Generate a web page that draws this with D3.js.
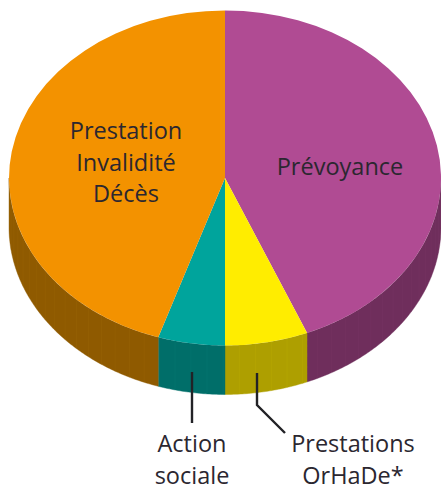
<!DOCTYPE html>
<html>
<head>
<meta charset="utf-8">
<script src="https://cdn.jsdelivr.net/npm/d3@7"></script>
<style>html,body{margin:0;padding:0;background:#fff}svg{display:block}</style>
</head>
<body>
<svg id="c" width="441" height="485"></svg>
<script>
const categories = ["Prévoyance", "Prestations OrHaDe*", "Action sociale", "Prestation Invalidité Décès"];
const shares = [43.8, 6.2, 5.0, 45.0];
const topColors = ["#b04b93", "#ffed00", "#00a49c", "#f39200"];
const sideColors = ["#6f2e5c", "#ae9f00", "#006e69", "#8f5a00"];
const ribColors = ["#7d3a69", "#c2b200", "#0a7f79", "#a06a08"];
const insideLabels = [
  {lines:["Prévoyance"], x:340, y:175},
  {lines:["Prestation","Invalidité","Décès"], x:126, y:139}
];
const outsideLabels = [
  {lines:["Action","sociale"], x:192, y:452},
  {lines:["Prestations","OrHaDe*"], x:353, y:452}
];
const leaders = [
  [[192,372],[192,423]],
  [[257,373],[257,405],[285,433]]
];

const cx=225, cy=178, rx=216, ry=167.5, depth=49, lh=31.5;
const svg=d3.select("#c");
const pie=d3.pie().sort(null).value((d,i)=>shares[i]);
const arcs=pie(categories);
const X=a=>cx+rx*Math.sin(a), Y=a=>cy-ry*Math.cos(a);
const line=d3.line();
const front=[Math.PI/2,Math.PI*1.5];

// side wall
const gWall=svg.append("g");
arcs.forEach((d,i)=>{
  const a0=Math.max(d.startAngle,front[0]), a1=Math.min(d.endAngle,front[1]);
  if(a1<=a0) return;
  const steps=d3.range(a0,a1,0.01).concat([a1]);
  const pts=steps.map(a=>[X(a),Y(a)]).concat(steps.slice().reverse().map(a=>[X(a),Y(a)+depth]));
  gWall.append("path").attr("d",line(pts)+"Z").attr("fill",sideColors[i]).attr("stroke",sideColors[i]).attr("stroke-width",0.4);
  // vertical ribs
  const rib=0.075;
  gWall.selectAll(null).data(d3.range(Math.ceil(a0/rib)*rib,a1,rib)).join("line")
    .attr("x1",X).attr("x2",X)
    .attr("y1",Y).attr("y2",a=>Y(a)+depth)
    .attr("stroke",ribColors[i]).attr("stroke-width",0.7).attr("opacity",0.4);
});

// top face
const arc=d3.arc().innerRadius(0).outerRadius(1);
svg.append("g").attr("transform",`translate(${cx},${cy}) scale(${rx},${ry})`)
  .selectAll("path").data(arcs).join("path")
  .attr("d",arc).attr("fill",(d,i)=>topColors[i]);

// leaders
svg.append("g").selectAll("path").data(leaders).join("path")
  .attr("d",line).attr("fill","none").attr("stroke","#222226").attr("stroke-width",2.4);

// labels
const txt=svg.append("g").attr("font-family","'Open Sans',sans-serif").attr("font-size",23.5)
  .attr("fill","#2b2730").attr("text-anchor","middle");
insideLabels.concat(outsideLabels).forEach(l=>{
  l.lines.forEach((s,j)=>txt.append("text").attr("x",l.x).attr("y",l.y+j*lh).text(s));
});
</script>
</body>
</html>
